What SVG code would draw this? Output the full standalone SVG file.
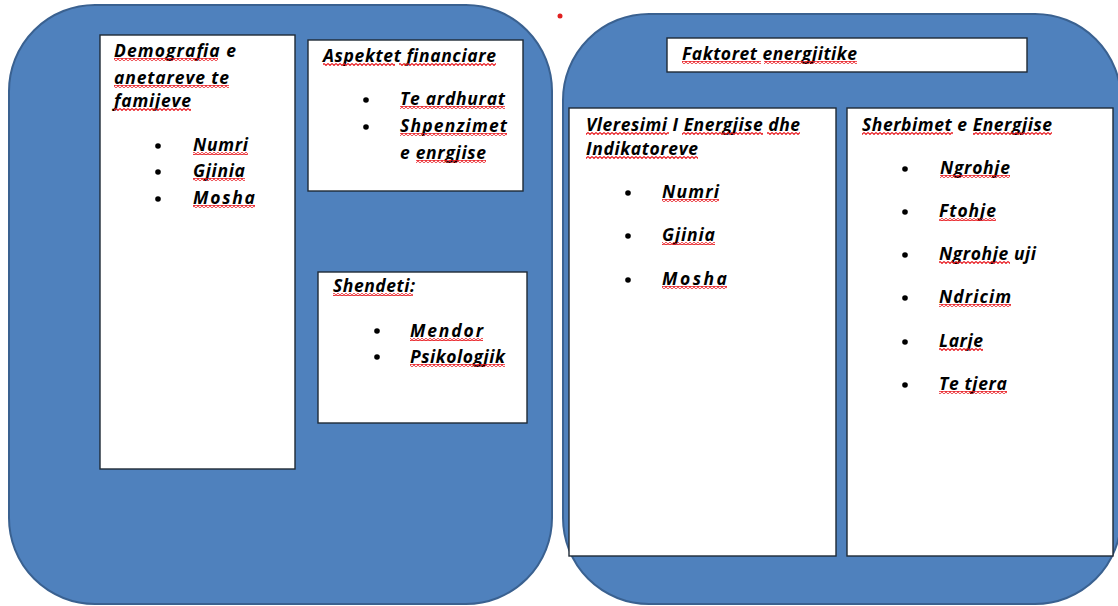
<svg xmlns="http://www.w3.org/2000/svg" width="1118" height="606" viewBox="0 0 1118 606">
<style>
.panel{fill:#4F81BD;stroke:#3A6190;stroke-width:2}
.box{fill:#fff;stroke:#1f2a36;stroke-width:1.4}
.t{font-family:"Open Sans","Liberation Sans",sans-serif;font-style:italic;font-weight:700;font-size:17.5px;fill:#000}
.sq{fill:url(#wavy)}
.dot{fill:#000}
</style>
<defs>
<pattern id="wavy" patternUnits="userSpaceOnUse" x="0" y="0" width="4" height="3">
<path d="M0 0.5 L2 2.5 L4 0.5" fill="none" stroke="#e8171d" stroke-width="1.1"/>
</pattern>
</defs>
<rect width="1118" height="606" fill="#fff"/>
<g id="left-panel">
<rect class="panel" x="9" y="5" width="543" height="599" rx="86" ry="86"/>
</g>
<g id="right-panel">
<rect class="panel" x="563" y="14" width="558" height="590" rx="86" ry="86"/>
</g>
<circle cx="560" cy="16" r="2.5" fill="#e02020"/>

<g id="demografia">
<rect class="box" x="100" y="35" width="195" height="434"/>
<text class="t" x="114" y="57" textLength="122">Demografia e</text>
<text class="t" x="114" y="84" textLength="115">anetareve te</text>
<text class="t" x="114" y="107" textLength="77">famijeve</text>
<circle class="dot" cx="158" cy="146" r="2.8"/>
<circle class="dot" cx="158" cy="172" r="2.8"/>
<circle class="dot" cx="158" cy="199" r="2.8"/>
<text class="t" x="193" y="151" textLength="55">Numri</text>
<text class="t" x="193" y="177" textLength="52">Gjinia</text>
<text class="t" x="193" y="204" textLength="62">Mosha</text>
<rect class="sq" x="114" y="58" width="104" height="3"/>
<rect class="sq" x="114" y="85" width="115" height="3"/>
<rect class="sq" x="114" y="108" width="77" height="3"/>
<rect class="sq" x="193" y="152" width="55" height="3"/>
<rect class="sq" x="193" y="178" width="52" height="3"/>
<rect class="sq" x="193" y="205" width="62" height="3"/>
</g>

<g id="aspektet">
<rect class="box" x="308" y="40" width="215" height="151"/>
<text class="t" x="323" y="62" textLength="173">Aspektet financiare</text>
<circle class="dot" cx="366" cy="100" r="2.8"/>
<circle class="dot" cx="366" cy="127" r="2.8"/>
<text class="t" x="400" y="105" textLength="105">Te ardhurat</text>
<text class="t" x="400" y="132" textLength="107">Shpenzimet</text>
<text class="t" x="400" y="159" textLength="86">e enrgjise</text>
<rect class="sq" x="323" y="63" width="72" height="3"/>
<rect class="sq" x="399" y="63" width="97" height="3"/>
<rect class="sq" x="400" y="106" width="105" height="3"/>
<rect class="sq" x="400" y="133" width="107" height="3"/>
<rect class="sq" x="416" y="160" width="70" height="3"/>
</g>

<g id="shendeti">
<rect class="box" x="318" y="272" width="209" height="151"/>
<text class="t" x="333" y="292" textLength="82">Shendeti:</text>
<circle class="dot" cx="377" cy="331" r="2.8"/>
<circle class="dot" cx="377" cy="357" r="2.8"/>
<text class="t" x="410" y="337" textLength="73">Mendor</text>
<text class="t" x="410" y="363" textLength="95">Psikologjik</text>
<rect class="sq" x="333" y="293" width="80" height="3"/>
<rect class="sq" x="410" y="338" width="73" height="3"/>
<rect class="sq" x="410" y="364" width="95" height="3"/>
</g>

<g id="faktoret">
<rect class="box" x="667" y="38" width="360" height="34"/>
<text class="t" x="682" y="60" textLength="175">Faktoret energjitike</text>
<rect class="sq" x="682" y="61" width="79" height="3"/>
<rect class="sq" x="764" y="61" width="93" height="3"/>
</g>

<g id="vleresimi">
<rect class="box" x="569" y="108" width="267" height="448"/>
<text class="t" x="586" y="131" textLength="214">Vleresimi I Energjise dhe</text>
<text class="t" x="586" y="155" textLength="112">Indikatoreve</text>
<circle class="dot" cx="628" cy="193" r="2.8"/>
<circle class="dot" cx="628" cy="236" r="2.8"/>
<circle class="dot" cx="628" cy="280" r="2.8"/>
<text class="t" x="662" y="198" textLength="57">Numri</text>
<text class="t" x="662" y="241" textLength="53">Gjinia</text>
<text class="t" x="662" y="285" textLength="65">Mosha</text>
<rect class="sq" x="586" y="132" width="83" height="3"/>
<rect class="sq" x="682" y="132" width="81" height="3"/>
<rect class="sq" x="767" y="132" width="33" height="3"/>
<rect class="sq" x="586" y="156" width="112" height="3"/>
<rect class="sq" x="662" y="199" width="57" height="3"/>
<rect class="sq" x="662" y="242" width="53" height="3"/>
<rect class="sq" x="662" y="286" width="65" height="3"/>
</g>

<g id="sherbimet">
<rect class="box" x="847" y="108" width="266" height="448"/>
<text class="t" x="862" y="131" textLength="190">Sherbimet e Energjise</text>
<circle class="dot" cx="905" cy="169" r="2.8"/>
<circle class="dot" cx="905" cy="212" r="2.8"/>
<circle class="dot" cx="905" cy="255" r="2.8"/>
<circle class="dot" cx="905" cy="298" r="2.8"/>
<circle class="dot" cx="905" cy="342" r="2.8"/>
<circle class="dot" cx="905" cy="385" r="2.8"/>
<text class="t" x="940" y="174" textLength="70">Ngrohje</text>
<text class="t" x="939" y="217" textLength="57">Ftohje</text>
<text class="t" x="939" y="260" textLength="97">Ngrohje uji</text>
<text class="t" x="939" y="303" textLength="72">Ndricim</text>
<text class="t" x="939" y="347" textLength="44">Larje</text>
<text class="t" x="939" y="390" textLength="68">Te tjera</text>
<rect class="sq" x="862" y="132" width="91" height="3"/>
<rect class="sq" x="973" y="132" width="79" height="3"/>
<rect class="sq" x="940" y="175" width="70" height="3"/>
<rect class="sq" x="939" y="218" width="57" height="3"/>
<rect class="sq" x="939" y="261" width="71" height="3"/>
<rect class="sq" x="939" y="304" width="72" height="3"/>
<rect class="sq" x="939" y="348" width="44" height="3"/>
<rect class="sq" x="939" y="391" width="68" height="3"/>
</g>
<g id="connectors"/>
</svg>
